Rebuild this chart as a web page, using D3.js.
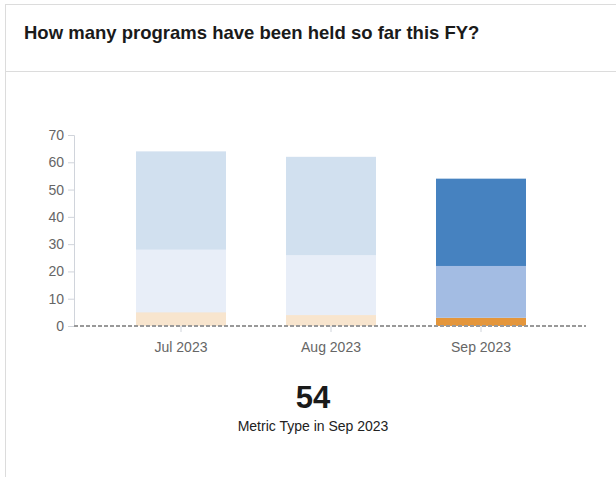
<!DOCTYPE html>
<html>
<head>
<meta charset="utf-8">
<script src="https://cdn.jsdelivr.net/npm/d3@7"></script>
<style>
  html, body { margin: 0; padding: 0; background: #fff; }
  svg { display: block; font-family: "Liberation Sans", Arial, sans-serif; }
</style>
</head>
<body>
<svg id="chart" width="616" height="477"></svg>
<script>
// Months shown on the x axis
const months = ["Jul 2023", "Aug 2023", "Sep 2023"];
// Stacked series, bottom to top
const seriesNames = ["Type A", "Type B", "Type C"];
const typeA = [5, 4, 3];
const typeB = [23, 22, 19];
const typeC = [36, 36, 32];
const seriesColors = ["#e4963b", "#a3bce3", "#4682c0"];
const yTicks = [0, 10, 20, 30, 40, 50, 60, 70];
const selectedMonth = "Sep 2023";

const svg = d3.select("#chart");

// Card frame and header
svg.append("rect").attr("x", 5.5).attr("y", 4.5).attr("width", 700).attr("height", 600)
  .attr("fill", "#fff").attr("stroke", "#dcdcdc");
svg.append("line").attr("x1", 5).attr("x2", 616).attr("y1", 71.5).attr("y2", 71.5)
  .attr("stroke", "#dcdcdc");
svg.append("text").attr("x", 24).attr("y", 39)
  .attr("font-size", 18.5).attr("font-weight", "bold").attr("fill", "#1a1a1a")
  .text("How many programs have been held so far this FY?");

const rows = months.map((m, i) => ({ month: m, "Type A": typeA[i], "Type B": typeB[i], "Type C": typeC[i] }));
const stacked = d3.stack().keys(seriesNames)(rows);

const x = d3.scaleBand().domain(months).range([106, 556]).paddingInner(0.4).paddingOuter(0.2);
const y = d3.scaleLinear().domain([0, 70]).range([326, 135]);

// Y axis
const yAxis = svg.append("g").attr("transform", "translate(74,0)")
  .call(d3.axisLeft(y).tickValues(yTicks).tickSize(6).tickPadding(4));
yAxis.select(".domain").attr("stroke", "#d0d4db");
yAxis.selectAll(".tick line").attr("stroke", "#d0d4db");
yAxis.selectAll(".tick text").attr("fill", "#666").attr("font-size", 14)
  .attr("font-family", "'Liberation Sans', Arial, sans-serif");

// Bars
svg.append("g").selectAll("g").data(stacked).join("g")
  .attr("fill", (d, i) => seriesColors[i])
  .selectAll("rect").data(d => d).join("rect")
  .attr("x", d => x(d.data.month))
  .attr("width", x.bandwidth())
  .attr("y", d => y(d[1]))
  .attr("height", d => y(d[0]) - y(d[1]))
  .attr("opacity", d => d.data.month === selectedMonth ? 1 : 0.25);

// X axis
const xAxis = svg.append("g").attr("transform", "translate(0,326)")
  .call(d3.axisBottom(x).tickSize(6).tickPadding(10));
xAxis.select(".domain").remove();
xAxis.selectAll(".tick line").attr("stroke", "#d0d4db");
xAxis.selectAll(".tick text").attr("fill", "#666").attr("font-size", 14)
  .attr("font-family", "'Liberation Sans', Arial, sans-serif");

// Zero reference line
svg.append("line").attr("x1", 74).attr("x2", 586).attr("y1", y(0)).attr("y2", y(0))
  .attr("stroke", "#999").attr("stroke-width", 2).attr("stroke-dasharray", "4,2");

// Headline value for the selected month
const selIdx = months.indexOf(selectedMonth);
const total = typeA[selIdx] + typeB[selIdx] + typeC[selIdx];
svg.append("text").attr("x", 313).attr("y", 408).attr("text-anchor", "middle")
  .attr("font-size", 31).attr("font-weight", "bold").attr("fill", "#1a1a1a")
  .text(total);
svg.append("text").attr("x", 313).attr("y", 431).attr("text-anchor", "middle")
  .attr("font-size", 14).attr("fill", "#222")
  .text("Metric Type in " + selectedMonth);
</script>
</body>
</html>
